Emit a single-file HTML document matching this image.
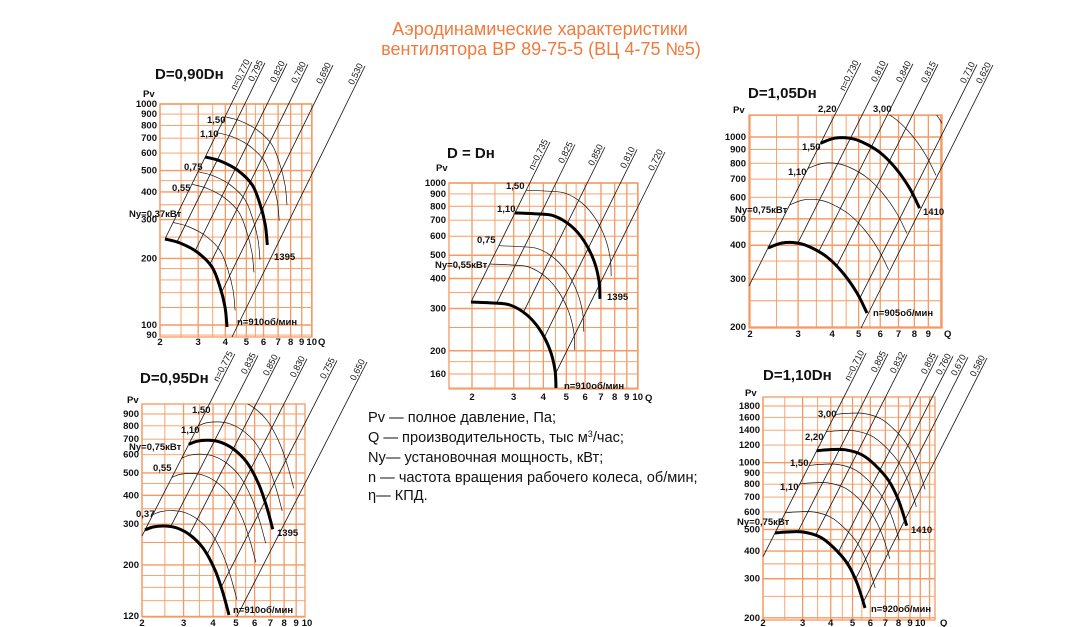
<!DOCTYPE html>
<html><head><meta charset="utf-8"><style>
body{margin:0;background:#fff;}
svg{display:block;font-family:"Liberation Sans",Arial,sans-serif;}
.yl text,.xl text{font-size:9.5px;font-weight:bold;fill:#111;}
.rl text{font-size:9px;fill:#111;}
.cl{font-size:9.5px;font-weight:bold;fill:#111;}
.tt{font-size:15px;font-weight:bold;fill:#111;}
.lg{font-size:14.6px;fill:#111;}
</style></head><body>
<svg id="s" width="1080" height="627" viewBox="0 0 1080 627" xmlns="http://www.w3.org/2000/svg">
<rect width="1080" height="627" fill="#fff"/>
<text x="540" y="35" text-anchor="middle" font-size="18" fill="#f07b3c">Аэродинамические характеристики</text>
<text x="541" y="55" text-anchor="middle" font-size="18" fill="#f07b3c">вентилятора  ВР 89-75-5 (ВЦ 4-75 №5)</text>
<g id="grids"></g>
<g id="curves"></g>

<text class="tt" x="155" y="79">D=0,90Dн</text>
<text class="cl" x="143" y="97" font-size="10">Pv</text>
<text class="cl" x="318" y="345" font-size="11">Q</text>
<g id="c0y" class="yl"><text>1000</text><text>900</text><text>800</text><text>700</text><text>600</text><text>500</text><text>400</text><text>300</text><text>200</text><text>100</text><text>90</text></g>
<g id="c0x" class="xl"><text>2</text><text>3</text><text>4</text><text>5</text><text>6</text><text>7</text><text>8</text><text>9</text><text>10</text></g>
<g id="c0r" class="rl"><text>n=0,770</text><text>0,795</text><text>0,820</text><text>0,780</text><text>0,690</text><text>0,530</text></g>
<text class="cl" x="207" y="123">1,50</text>
<text class="cl" x="200" y="137">1,10</text>
<text class="cl" x="184" y="170">0,75</text>
<text class="cl" x="172" y="191">0,55</text>
<text class="cl" x="129" y="217">Ny=0,37кВт</text>
<text class="cl" x="274" y="260">1395</text>
<text class="cl" x="237" y="325">n=910об/мин</text>

<text class="tt" x="447" y="158">D = Dн</text>
<text class="cl" x="436" y="171" font-size="10">Pv</text>
<text class="cl" x="645" y="401" font-size="11">Q</text>
<g id="c1y" class="yl"><text>1000</text><text>900</text><text>800</text><text>700</text><text>600</text><text>500</text><text>400</text><text>300</text><text>200</text><text>160</text></g>
<g id="c1x" class="xl"><text>2</text><text>3</text><text>4</text><text>5</text><text>6</text><text>7</text><text>8</text><text>9</text><text>10</text></g>
<g id="c1r" class="rl"><text>n=0,735</text><text>0,825</text><text>0,850</text><text>0,810</text><text>0,720</text></g>
<text class="cl" x="506" y="189">1,50</text>
<text class="cl" x="497" y="212">1,10</text>
<text class="cl" x="477" y="243">0,75</text>
<text class="cl" x="435" y="268">Ny=0,55кВт</text>
<text class="cl" x="607" y="300">1395</text>
<text class="cl" x="564" y="389">n=910об/мин</text>

<text class="tt" x="748" y="98">D=1,05Dн</text>
<text class="cl" x="733" y="113" font-size="10">Pv</text>
<text class="cl" x="944" y="337" font-size="11">Q</text>
<g id="c2y" class="yl"><text>1000</text><text>900</text><text>800</text><text>700</text><text>600</text><text>500</text><text>400</text><text>300</text><text>200</text></g>
<g id="c2x" class="xl"><text>2</text><text>3</text><text>4</text><text>5</text><text>6</text><text>7</text><text>8</text><text>9</text></g>
<g id="c2r" class="rl"><text>n=0,730</text><text>0,810</text><text>0,840</text><text>0,815</text><text>0,710</text><text>0,620</text></g>
<text class="cl" x="818" y="112">2,20</text>
<text class="cl" x="873" y="112">3,00</text>
<text class="cl" x="802" y="150">1,50</text>
<text class="cl" x="788" y="175">1,10</text>
<text class="cl" x="735" y="213">Ny=0,75кВт</text>
<text class="cl" x="923" y="215">1410</text>
<text class="cl" x="873" y="316">n=905об/мин</text>

<text class="tt" x="140" y="383">D=0,95Dн</text>
<text class="cl" x="127" y="403" font-size="10">Pv</text>
<g id="c3y" class="yl"><text>900</text><text>800</text><text>700</text><text>600</text><text>500</text><text>400</text><text>300</text><text>200</text><text>120</text></g>
<g id="c3x" class="xl"><text>2</text><text>3</text><text>4</text><text>5</text><text>6</text><text>7</text><text>8</text><text>9</text><text>10</text></g>
<g id="c3r" class="rl"><text>n=0,775</text><text>0,835</text><text>0,850</text><text>0,830</text><text>0,755</text><text>0,650</text></g>
<text class="cl" x="192" y="413">1,50</text>
<text class="cl" x="181" y="433">1,10</text>
<text class="cl" x="129" y="450">Ny=0,75кВт</text>
<text class="cl" x="153" y="471">0,55</text>
<text class="cl" x="136" y="517">0,37</text>
<text class="cl" x="277" y="536">1395</text>
<text class="cl" x="233" y="613">n=910об/мин</text>

<text class="tt" x="763" y="380">D=1,10Dн</text>
<text class="cl" x="745" y="396" font-size="10">Pv</text>
<text class="cl" x="940" y="626" font-size="11">Q</text>
<g id="c4y" class="yl"><text>1800</text><text>1600</text><text>1400</text><text>1200</text><text>1000</text><text>900</text><text>800</text><text>700</text><text>600</text><text>500</text><text>400</text><text>300</text><text>200</text></g>
<g id="c4x" class="xl"><text>2</text><text>3</text><text>4</text><text>5</text><text>6</text><text>7</text><text>8</text><text>9</text><text>10</text></g>
<g id="c4r" class="rl"><text>n=0,710</text><text>0,805</text><text>0,832</text><text>0,805</text><text>0,760</text><text>0,670</text><text>0,580</text></g>
<text class="cl" x="818" y="417">3,00</text>
<text class="cl" x="805" y="440">2,20</text>
<text class="cl" x="790" y="466">1,50</text>
<text class="cl" x="780" y="490">1,10</text>
<text class="cl" x="737" y="525">Ny=0,75кВт</text>
<text class="cl" x="911" y="533">1410</text>
<text class="cl" x="871" y="612">n=920об/мин</text>

<text class="lg" x="368" y="422">Pv — полное давление, Па;</text>
<text class="lg" x="368" y="442">Q  — производительность, тыс м<tspan font-size="9" dy="-5">3</tspan><tspan dy="5">/час;</tspan></text>
<text class="lg" x="368" y="462">Ny— установочная мощность, кВт;</text>
<text class="lg" x="368" y="482">n — частота вращения рабочего колеса, об/мин;</text>
<text class="lg" x="368" y="500">η— КПД.</text>
</svg>
<script>
(function(){
var NS="http://www.w3.org/2000/svg",L=Math.log10;
var C=[
{x0:160,kx:217,yref:104,pref:1000,ky:221,box:[160,104,312,337],base:[[165,239],[180,243],[197,252],[212,267],[220,287],[225,307],[227,327]],fast:1395/910,thin:[1.09,1.33,1.42,1.74,1.89],tops:[253,265,287,308,333,365],ext:null,top:[62,66],xly:345},
{x0:472,kx:237,yref:183,pref:1000,ky:240,box:[449,183,638,389],base:[[471,302],[493,303],[510,305],[527,315],[540,330],[550,350],[555,370],[556,388]],fast:1395/910,thin:[1.20,1.31,1.71],tops:[547,575,605,637,665],ext:null,top:[142,152],xly:400},
{x0:750,kx:273,yref:137,pref:1000,ky:272,box:[749,115,942,328],base:[[768,248],[782,243],[797,243],[810,247],[827,257],[843,273],[857,293],[867,313]],fast:1410/905,thin:[1.20,1.40,1.79,2.05],tops:[860,888,913,938,977,993],ext:749,top:[63,65],xly:337},
{x0:142,kx:236,yref:414,pref:900,ky:231,box:[142,404,305,617],base:[[145,530],[153,527],[165,526],[177,528],[190,535],[203,548],[215,570],[223,593],[229,615]],fast:1395/910,thin:[1.08,1.30,1.43,1.68,1.88],tops:[238,258,280,307,337,367],ext:142,top:[354,362],xly:626},
{x0:763,kx:225,yref:406,pref:1800,ky:222,box:[763,397,935,620],base:[[775,533],[787,532],[803,532],[820,537],[833,547],[847,563],[857,583],[865,608]],fast:1410/920,thin:[1.11,1.29,1.42,1.69,1.85],tops:[863,888,907,938,953,968,987],ext:763,top:[353,358],xly:626}
];
var QV=[2,2.5,3,3.5,4,4.5,5,5.5,6,7,8,9,10,11,12];
var PV=[90,100,120,140,160,180,200,250,300,350,400,450,500,600,700,800,900,1000,1200,1400,1600,1800,2000];
var G=document.getElementById('grids'),K=document.getElementById('curves'),S=document.getElementById('s');
function el(t,a,p){var e=document.createElementNS(NS,t);for(var k in a)e.setAttribute(k,a[k]);(p||G).appendChild(e);return e;}
function smooth(p){var d='M'+p[0][0]+','+p[0][1];for(var i=0;i<p.length-1;i++){var a=p[i-1]||p[i],b=p[i],c=p[i+1],e=p[i+2]||c;d+=' C'+(b[0]+(c[0]-a[0])/6).toFixed(1)+','+(b[1]+(c[1]-a[1])/6).toFixed(1)+' '+(c[0]-(e[0]-b[0])/6).toFixed(1)+','+(c[1]-(e[1]-b[1])/6).toFixed(1)+' '+c[0]+','+c[1];}return d;}
var defs=el('defs',{},S);
C.forEach(function(c,ci){
 var b=c.box,gc='#f59a62';
 QV.forEach(function(q){var x=c.x0+c.kx*L(q/2);if(x>=b[0]-0.5&&x<=b[2]+0.5)el('line',{x1:x,y1:b[1],x2:x,y2:b[3],stroke:gc,'stroke-width':(q%1?0.9:1.3)});});
 PV.forEach(function(p){var y=c.yref+c.ky*L(c.pref/p);if(y>=b[1]-0.5&&y<=b[3]+0.5)el('line',{x1:b[0],y1:y,x2:b[2],y2:y,stroke:gc,'stroke-width':([100,200,300,400,500,1000].indexOf(p)>=0?1.4:0.9)});});
 el('rect',{x:b[0],y:b[1],width:b[2]-b[0],height:b[3]-b[1],fill:'none',stroke:gc,'stroke-width':1.3});
 var cp=el('clipPath',{id:'cp'+ci},defs);el('rect',{x:b[0],y:b[1],width:b[2]-b[0],height:b[3]-b[1]},cp);
 function sh(s){var dx=c.kx*L(s),dy=-2*c.ky*L(s);return c.base.map(function(p){return [+(p[0]+dx).toFixed(1),+(p[1]+dy).toFixed(1)];});}
 c.thin.forEach(function(s){el('path',{d:smooth(sh(s)),fill:'none',stroke:'#111','stroke-width':0.7,'clip-path':'url(#cp'+ci+')'},K);});
 var r=2*c.ky/c.kx,ang=Math.atan(r)*180/Math.PI;
 var labs=document.getElementById('c'+ci+'r').children,n=c.tops.length,P=c.base;
 c.tops.forEach(function(tx,i){
  var ty=c.top[0]+(c.top[1]-c.top[0])*i/(n-1),bx,by;
  if(i==0){var ax=P[0][0],ay=P[0][1];ty=ty;tx=ax+(ay-ty)/r;bx=ax;by=ay;if(c.ext!=null){bx=c.ext;by=ay+(ax-c.ext)*r;}}
  else{
   function f(p){return p[1]-(ty-r*(p[0]-tx));}
   var found=false;
   for(var k=0;k<P.length-1;k++){var f1=f(P[k]),f2=f(P[k+1]);if(f1===0||f1*f2<0){var t=f1/(f1-f2);bx=P[k][0]+t*(P[k+1][0]-P[k][0]);by=P[k][1]+t*(P[k+1][1]-P[k][1]);found=true;break;}}
   if(!found){by=b[3];bx=tx-(by-ty)/r;}
  }
  el('line',{x1:bx.toFixed(1),y1:by.toFixed(1),x2:tx.toFixed(1),y2:ty.toFixed(1),stroke:'#111','stroke-width':0.8},K);
  var t=labs[i];if(t){t.setAttribute('transform','translate('+tx.toFixed(1)+','+ty.toFixed(1)+') rotate('+(-ang).toFixed(1)+')');t.setAttribute('text-anchor','end');t.setAttribute('y','-2');}
 });
 el('path',{d:smooth(c.base),fill:'none',stroke:'#000','stroke-width':3},K);
 el('path',{d:smooth(sh(c.fast)),fill:'none',stroke:'#000','stroke-width':3},K);
 Array.prototype.forEach.call(document.getElementById('c'+ci+'y').children,function(t){var p=parseFloat(t.textContent);t.setAttribute('x',b[0]-3);t.setAttribute('y',(c.yref+c.ky*L(c.pref/p)+3).toFixed(1));t.setAttribute('text-anchor','end');});
 Array.prototype.forEach.call(document.getElementById('c'+ci+'x').children,function(t){var q=parseFloat(t.textContent);t.setAttribute('x',(c.x0+c.kx*L(q/2)).toFixed(1));t.setAttribute('y',c.xly);t.setAttribute('text-anchor','middle');});
});
})();
</script>
</body></html>
